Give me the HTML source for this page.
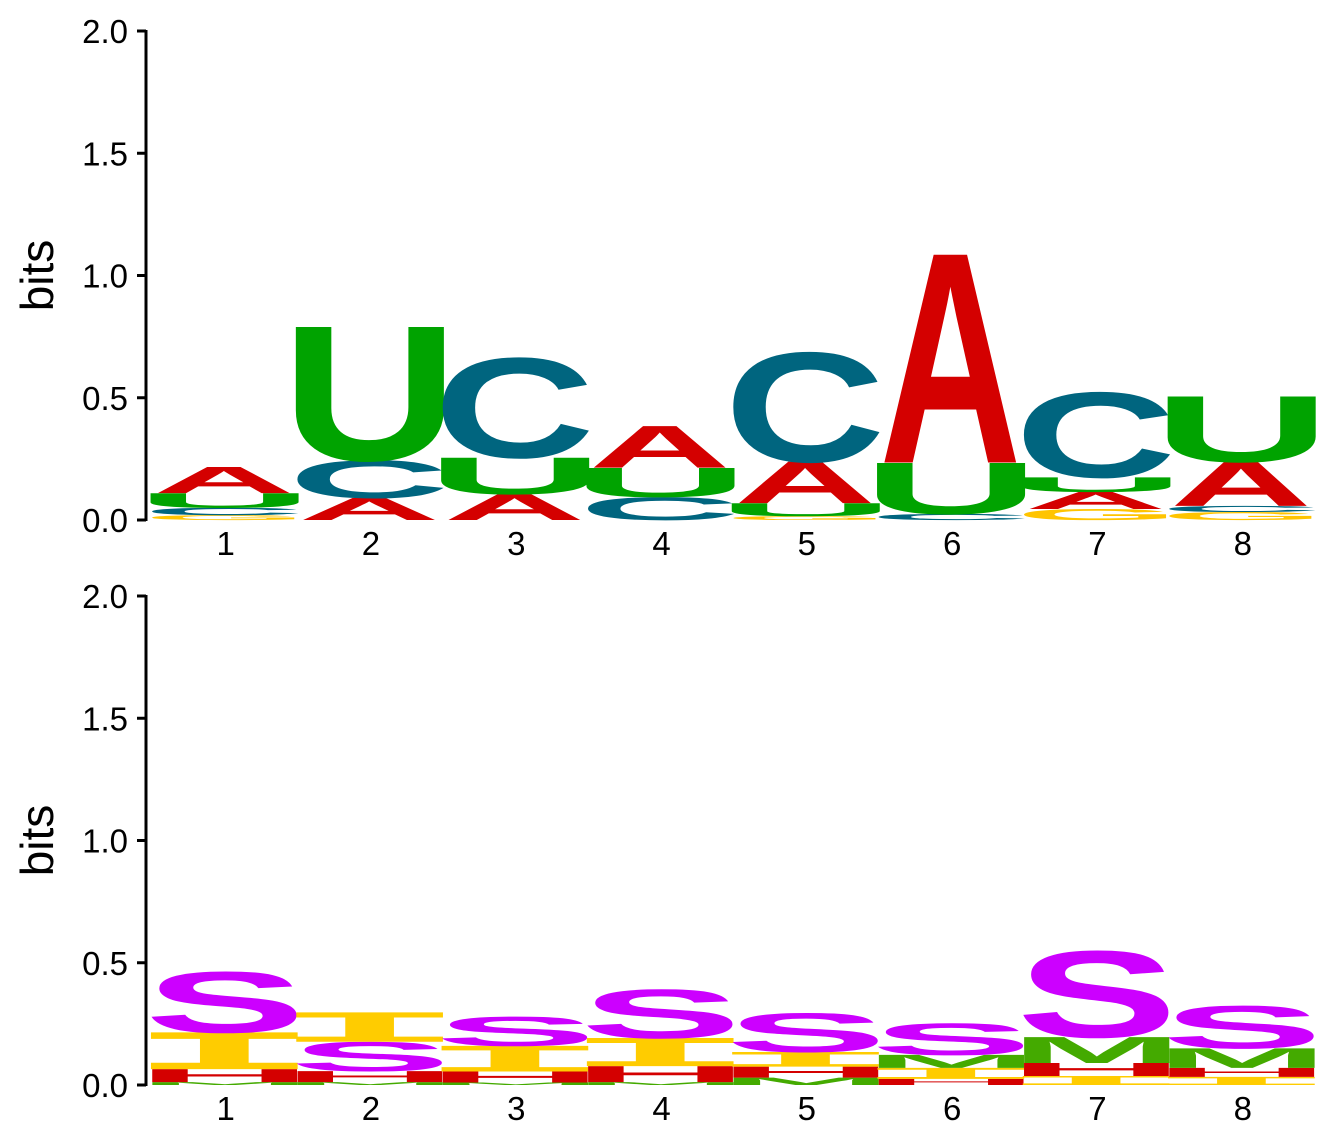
<!DOCTYPE html>
<html><head><meta charset="utf-8"><style>body{margin:0;background:#fff}svg{display:block}</style></head>
<body>
<svg id="logo" width="1339" height="1130" xmlns="http://www.w3.org/2000/svg"></svg>
<script>
const positions = [1,2,3,4,5,6,7,8];
const yTicks = [0, 0.5, 1.0, 1.5, 2.0];
const yTickLabels = ["0.0","0.5","1.0","1.5","2.0"];
const topLetters = [
  ["G","C","U","A"],["A","C","U"],["A","U","C"],["C","U","A"],
  ["G","U","A","C"],["C","U","A"],["G","A","U","C"],["G","C","A","U"]];
const topBits = [
  [0.02,0.03,0.06,0.107],[0.09,0.155,0.55],[0.106,0.15,0.41],[0.094,0.12,0.17],
  [0.016,0.053,0.17,0.45],[0.025,0.21,0.85],[0.045,0.07,0.06,0.35],[0.033,0.025,0.18,0.27]];
const botLetters = [
  ["M","H","I","S"],["M","H","S","I"],["M","H","I","S"],["M","H","I","S"],
  ["M","H","I","S"],["H","I","M","S"],["I","H","M","S"],["I","H","M","S"]];
const botBits = [
  [0.012,0.053,0.15,0.25],[0.012,0.045,0.12,0.12],[0.01,0.045,0.105,0.12],[0.012,0.065,0.115,0.2],
  [0.03,0.045,0.06,0.16],[0.025,0.045,0.053,0.13],[0.037,0.053,0.106,0.355],[0.033,0.037,0.08,0.175]];

const colors = {A:"#d40000",C:"#00657f",U:"#00a300",G:"#ffc400",S:"#cc00ff",I:"#ffcc00",H:"#d40000",M:"#44aa00"};
const glyph = {
  A:{f:"Liberation Sans",l:0.0,w:0.74,c:0.688},
  C:{f:"Liberation Sans",l:0.045,w:0.65,c:0.70},
  U:{f:"Liberation Sans",l:0.07,w:0.59,c:0.695},
  G:{f:"Liberation Sans",l:0.045,w:0.69,c:0.70},
  S:{f:"Liberation Sans",l:0.035,w:0.6,c:0.70},
  H:{f:"Liberation Sans",l:0.07,w:0.59,c:0.688},
  M:{f:"Liberation Sans",l:0.07,w:0.7,c:0.688},
  I:{f:"DejaVu Sans Mono",l:0.09,w:0.43,c:0.729}
};
const NS="http://www.w3.org/2000/svg";
const svg=document.getElementById('logo');
const colStart=153, colW=145.3, pxPerBit=244.5, FS=100;
function xPos(i){return colStart+i*colW;}
function mk(tag,attrs,parent){const e=document.createElementNS(NS,tag);for(const k in attrs)e.setAttribute(k,attrs[k]);(parent||svg).appendChild(e);return e;}

function panel(y0, letters, bits, pname){
  const g=mk('g',{});
  
  
  const yS=v=>y0-v*pxPerBit;
  positions.forEach((p,i)=>{
    const xl=mk('text',{x:xPos(i)+colW/2,y:y0+35,"text-anchor":"middle","font-family":"Liberation Sans, sans-serif","font-size":33},g);
    
    
    xl.textContent=p;
    let cum=0;
    letters[i].forEach((L,j)=>{
      const h=bits[i][j]*pxPerBit, gm=glyph[L];
      const yb=yS(cum); cum+=bits[i][j];
      const sx=colW/(gm.w*FS), sy=h/(gm.c*FS);
      const t=mk('text',{x:0,y:0,"font-family":gm.f+", sans-serif","font-weight":"bold","font-size":FS,fill:colors[L],
        transform:`translate(${xPos(i)-gm.l*FS*sx},${yb}) scale(${sx},${sy})`},g);
      
      
      t.textContent=L;
    });
  });
  const ax=mk('line',{x1:146,x2:146,y1:yS(2)-1,y2:y0+1,stroke:"#000","stroke-width":3},g);
  
  
  yTicks.forEach((t,k)=>{
    const tk=mk('line',{x1:137,x2:146,y1:yS(t),y2:yS(t),stroke:"#000","stroke-width":3},g);
    
    
    const tl=mk('text',{x:128,y:yS(t)+12,"text-anchor":"end","font-family":"Liberation Sans, sans-serif","font-size":33},g);
    
    
    tl.textContent=yTickLabels[k];
  });
  const yt=mk('text',{transform:`translate(53,${yS(1)}) rotate(-90)`,"text-anchor":"middle","font-family":"Liberation Sans, sans-serif","font-size":46},g);
  
  
  yt.textContent="bits";
}
panel(520, topLetters, topBits, 'top-logo-panel');
panel(1085, botLetters, botBits, 'bottom-logo-panel');
</script>
</body></html>
